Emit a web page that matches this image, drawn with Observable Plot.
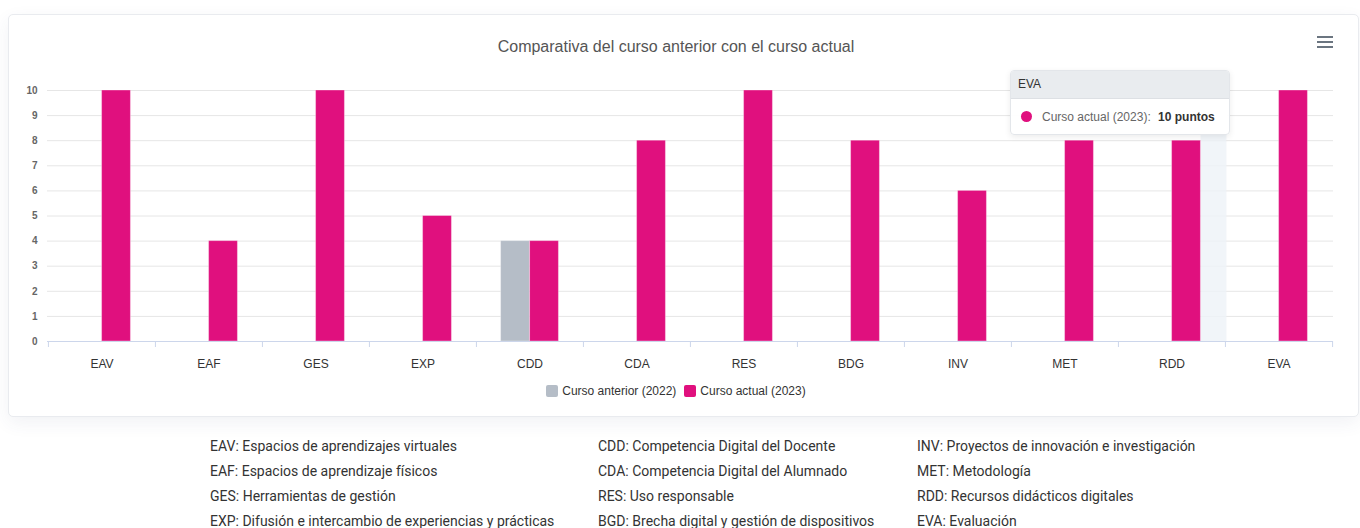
<!DOCTYPE html>
<html>
<head>
<meta charset="utf-8">
<script src="https://cdn.jsdelivr.net/npm/d3@7"></script>
<script src="https://cdn.jsdelivr.net/npm/@observablehq/plot@0.6"></script>
<style>
  html, body { margin: 0; padding: 0; background: #fff; width: 1360px; height: 528px; overflow: hidden; }
  .card { position: absolute; left: 8px; top: 14px; width: 1349px; height: 401px; border: 1px solid #e9ebef; border-radius: 5px; box-shadow: 0 6px 18px rgba(60,70,110,0.07); background: #fff; }
  .title { position: absolute; left: 0; width: 1352px; top: 38px; text-align: center; font: 16px "Liberation Sans", Arial, sans-serif; color: #555; }
  .menu { position: absolute; left: 1317px; top: 36px; width: 16px; }
  .menu span { display: block; height: 2px; background: #6b7580; margin-bottom: 3px; }
  #chart { position: absolute; left: 0; top: 70px; }
  .legend { position: absolute; top: 384px; left: 0; width: 1352px; text-align: center; font: 12px "Liberation Sans", Arial, sans-serif; color: #333; }
  .legend .item { display: inline-flex; align-items: center; margin: 0 4px; }
  .legend .sw { width: 12px; height: 12px; border-radius: 2px; margin-right: 4px; display: inline-block; }
  .tip { position: absolute; left: 1010px; top: 70px; width: 218px; height: 63px; background: rgba(255,255,255,0.96); border: 1px solid #e3e6ea; border-radius: 4px; box-shadow: 0 2px 6px rgba(0,0,0,0.08); font: 12px "Liberation Sans", Arial, sans-serif; overflow: hidden; }
  .tip .hd { height: 27px; line-height: 27px; background: #e9ecef; padding-left: 7px; color: #333; border-bottom: 1px solid #dde0e4; }
  .tip .bd { height: 35px; line-height: 36px; padding-left: 10px; color: #666; white-space: nowrap; }
  .tip .dot { display: inline-block; width: 11px; height: 11px; border-radius: 50%; vertical-align: -1px; margin-right: 10px; }
  .tip b { color: #333; margin-left: 4px; }
  .notes { position: absolute; top: 434px; left: 0; font: 14px Roboto, sans-serif; color: #333; }
  .notes .col { position: absolute; top: 0; white-space: nowrap; line-height: 25px; }
</style>
</head>
<body>
<div class="card"></div>
<div class="title" id="title"></div>
<div class="menu"><span></span><span></span><span></span></div>
<div id="chart"></div>
<div class="legend" id="legend"></div>
<div class="tip" id="tip"></div>
<div class="notes" id="notes"></div>
<script>
// ---- data ----
const categories = ["EAV","EAF","GES","EXP","CDD","CDA","RES","BDG","INV","MET","RDD","EVA"];
const previousCourse = [0,0,0,0,4,0,0,0,0,0,0,0];      // Curso anterior (2022)
const currentCourse  = [10,4,10,5,4,8,10,8,6,8,8,10];   // Curso actual (2023)
const seriesNames = ["Curso anterior (2022)", "Curso actual (2023)"];
const seriesColors = ["#b5bdc7", "#e0107e"];
const yTicks = [0,1,2,3,4,5,6,7,8,9,10];
const titleText = "Comparativa del curso anterior con el curso actual";
const noteColumns = [
  ["EAV: Espacios de aprendizajes virtuales","EAF: Espacios de aprendizaje físicos","GES: Herramientas de gestión","EXP: Difusión e intercambio de experiencias y prácticas"],
  ["CDD: Competencia Digital del Docente","CDA: Competencia Digital del Alumnado","RES: Uso responsable","BGD: Brecha digital y gestión de dispositivos"],
  ["INV: Proyectos de innovación e investigación","MET: Metodología","RDD: Recursos didácticos digitales","EVA: Evaluación"]
];
const tooltipCategory = "EVA";
const tooltipValue = "10 puntos";

// ---- layout ----
const W = 1360, H = 310, mL = 47, mR = 27, mT = 20, mB = 39;
const bw = (W - mL - mR) / categories.length;
const barW = 29;
const gridColor = "#e6e6e6", axisColor = "#ccd6eb";

const prevData = categories.map((c, i) => ({cat: c, value: previousCourse[i]}));
const curData = categories.map((c, i) => ({cat: c, value: currentCourse[i]}));

const chart = Plot.plot({
  width: W, height: H,
  marginLeft: mL, marginRight: mR, marginTop: mT, marginBottom: mB,
  style: {fontFamily: "'Liberation Sans', Arial, sans-serif", background: "transparent", overflow: "visible"},
  x: {type: "band", domain: categories, padding: 0},
  y: {domain: [0, 10]},
  marks: [
    Plot.gridY(yTicks, {stroke: gridColor, strokeOpacity: 1, strokeWidth: 1}),
    // hover highlight remnant
    Plot.barY(["RDD"], {x: d => d, y1: 0, y2: 10, fill: "#eef2f8", fillOpacity: 0.8, insetLeft: bw/2 + barW, insetRight: bw/2 - barW - 26}),
    Plot.axisY(yTicks, {tickSize: 0, tickPadding: 10, fontSize: 10, fill: "#666", label: null, fontWeight: "bold"}),
    Plot.barY(prevData, {x: "cat", y: "value", fill: seriesColors[0], insetLeft: bw/2 - barW, insetRight: bw/2, stroke: "#fff", strokeOpacity: 0.35}),
    Plot.barY(curData, {x: "cat", y: "value", fill: seriesColors[1], insetLeft: bw/2, insetRight: bw/2 - barW, stroke: "#fff", strokeOpacity: 0.35}),
    Plot.ruleY([0], {stroke: axisColor}),
    Plot.axisX({tickSize: 0, tickPadding: 18, fontSize: 12, fill: "#333", label: null}),
    Plot.axisX({tickSize: 6, dx: -bw/2, text: null, stroke: axisColor, label: null}),
    Plot.axisX([categories[categories.length - 1]], {tickSize: 6, dx: bw/2, text: null, stroke: axisColor, label: null})
  ]
});
document.getElementById("chart").appendChild(chart);

document.getElementById("title").textContent = titleText;

const legend = document.getElementById("legend");
seriesNames.forEach((n, i) => {
  const it = document.createElement("span"); it.className = "item";
  const sw = document.createElement("span"); sw.className = "sw"; sw.style.background = seriesColors[i];
  it.appendChild(sw); it.appendChild(document.createTextNode(n));
  legend.appendChild(it);
});

const tip = document.getElementById("tip");
tip.innerHTML = `<div class="hd">${tooltipCategory}</div><div class="bd"><span class="dot" style="background:${seriesColors[1]}"></span>${seriesNames[1]}: <b>${tooltipValue}</b></div>`;

const notes = document.getElementById("notes");
const colX = [210, 598, 917];
noteColumns.forEach((col, i) => {
  const d = document.createElement("div"); d.className = "col"; d.style.left = colX[i] + "px";
  d.innerHTML = col.map(t => `<div>${t}</div>`).join("");
  notes.appendChild(d);
});
</script>
</body>
</html>
